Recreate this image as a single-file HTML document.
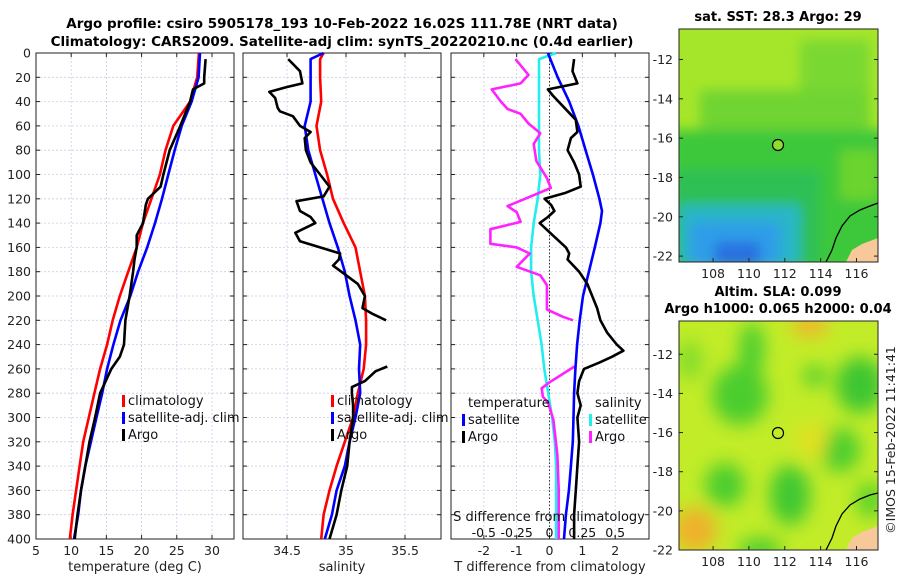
<!DOCTYPE html>
<html><head><meta charset="utf-8">
<style>
html,body{margin:0;padding:0;background:#fff;}
svg{display:block;font-family:"DejaVu Sans","Liberation Sans",sans-serif;}
</style></head>
<body>
<svg id="fig" width="900" height="580" viewBox="0 0 900 580" xmlns="http://www.w3.org/2000/svg">
<text x="342" y="28" text-anchor="middle" font-size="13.5" font-weight="bold">Argo profile: csiro 5905178_193 10-Feb-2022 16.02S 111.78E (NRT data)</text>
<text x="342" y="46" text-anchor="middle" font-size="13.5" font-weight="bold">Climatology: CARS2009. Satellite-adj clim: synTS_20220210.nc (0.4d earlier)</text>
<g id="p1"></g>
<g id="p2"></g>
<g id="p3"></g>

<!-- SST map -->
<text x="778" y="21" text-anchor="middle" font-size="13" font-weight="bold">sat. SST: 28.3 Argo: 29</text>
<g>
<defs>
<clipPath id="c1"><rect x="679" y="29" width="199" height="233"/></clipPath>
<clipPath id="c2"><rect x="679" y="321" width="199" height="229"/></clipPath>
<filter id="bl" x="-50%" y="-50%" width="200%" height="200%"><feGaussianBlur stdDeviation="9"/></filter>
<filter id="bl2" x="-20%" y="-20%" width="140%" height="140%"><feGaussianBlur stdDeviation="6"/></filter>
</defs>
<g clip-path="url(#c1)">
<rect x="679" y="29" width="199" height="233" fill="#a6e62a"/>
<g filter="url(#bl2)">
<rect x="700" y="90" width="170" height="60" fill="#6fd432"/>
<rect x="670" y="130" width="220" height="140" fill="#3ec83a"/>
<rect x="800" y="40" width="70" height="50" fill="#7ad830"/>
<rect x="670" y="170" width="150" height="100" fill="#2fbf55"/>
<rect x="680" y="205" width="120" height="60" fill="#29b6c8"/>
<rect x="690" y="222" width="90" height="45" fill="#2e9de8"/>
<rect x="715" y="242" width="45" height="25" fill="#2c6fe0"/>
<rect x="840" y="150" width="40" height="50" fill="#6cd42e"/>
</g>
<path d="M 846 262 L 852 250 L 862 244 L 878 238 L 878 262 Z" fill="#f7c99a"/>
<path d="M 826 262 L 832 250 L 836 238 L 842 226 L 850 216 L 860 210 L 870 206 L 878 203" fill="none" stroke="#000" stroke-width="1.3"/>
</g>
<rect x="679" y="29" width="199" height="233" fill="none" stroke="#222" stroke-width="1"/>
<circle cx="778" cy="145" r="5.5" fill="#8edc30" stroke="#000" stroke-width="1.2"/>
</g>
<g id="m1ticks"></g>

<!-- SLA map -->
<text x="778" y="296" text-anchor="middle" font-size="13" font-weight="bold">Altim. SLA: 0.099</text>
<text x="778" y="313" text-anchor="middle" font-size="13" font-weight="bold">Argo h1000: 0.065 h2000: 0.04</text>
<g>
<g clip-path="url(#c2)">
<rect x="679" y="321" width="199" height="229" fill="#c2ec28"/>
<g filter="url(#bl)">
<ellipse cx="752" cy="350" rx="12" ry="28" fill="#46cc30"/>
<ellipse cx="740" cy="395" rx="28" ry="30" fill="#4ccd2e"/>
<ellipse cx="860" cy="385" rx="24" ry="28" fill="#3ec631"/>
<ellipse cx="815" cy="376" rx="12" ry="10" fill="#4ccd2e"/>
<ellipse cx="840" cy="450" rx="20" ry="22" fill="#4ccd2e"/>
<ellipse cx="725" cy="485" rx="20" ry="22" fill="#4ccd2e"/>
<ellipse cx="790" cy="495" rx="20" ry="30" fill="#3fc830"/>
<ellipse cx="760" cy="550" rx="22" ry="12" fill="#4ccd2e"/>
<ellipse cx="870" cy="500" rx="14" ry="18" fill="#5ad22c"/>
<ellipse cx="690" cy="360" rx="12" ry="20" fill="#80db2a"/>
<ellipse cx="810" cy="325" rx="18" ry="12" fill="#f2b52a"/>
<ellipse cx="695" cy="530" rx="22" ry="22" fill="#f0b02c"/>
<ellipse cx="812" cy="440" rx="16" ry="18" fill="#e3e024"/>
</g>
<path d="M 846 550 L 852 538 L 862 532 L 878 526 L 878 550 Z" fill="#f7c99a"/>
<path d="M 826 550 L 832 538 L 836 526 L 842 514 L 850 505 L 860 499 L 870 495 L 878 493" fill="none" stroke="#000" stroke-width="1.3"/>
</g>
<rect x="679" y="321" width="199" height="229" fill="none" stroke="#222" stroke-width="1"/>
<circle cx="778" cy="433" r="5.5" fill="none" stroke="#000" stroke-width="1.2"/>
</g>
<g id="m2ticks"></g>
<text x="0" y="0" transform="translate(895,440) rotate(-90)" text-anchor="middle" font-size="12.5" fill="#222">©IMOS 15-Feb-2022 11:41:41</text>
</svg>
<script>
// ---- data (depth in dbar) ----
var depthsClim = [0,20,40,60,80,100,120,140,160,180,200,220,240,260,280,300,320,340,360,380,400];
var tempClim   = [28.15,27.9,26.9,24.5,23.4,22.6,21.4,20.2,19.3,18.1,16.9,15.9,15.1,14.1,13.3,12.5,11.7,11.2,10.7,10.2,9.8];
var tempSat    = [28.3,28.1,27.1,25.7,24.7,23.8,22.9,21.9,20.8,19.5,18.4,17.0,16.0,15.1,14.4,13.6,12.8,12.0,11.4,11.0,10.4];
var argoTempDepth = [5,20,25,30,40,60,80,100,110,120,125,140,150,160,170,180,200,220,240,250,260,280,300,320,340,360,380,400];
var argoTemp      = [29.1,28.9,28.9,27.3,26.9,25.5,24.0,23.1,22.7,20.9,20.6,20.2,19.3,19.3,19.0,18.8,18.3,17.7,17.5,16.9,15.7,14.1,13.4,12.6,12.0,11.4,10.9,10.5];
var salDepth = [0,5,20,40,60,80,100,120,140,160,180,200,220,240,260,280,300,320,340,360,380,400];
var salClim  = [34.81,34.78,34.78,34.79,34.75,34.78,34.84,34.89,34.98,35.08,35.12,35.16,35.17,35.17,35.15,35.10,35.06,34.99,34.92,34.86,34.81,34.79];
var salSat   = [34.81,34.70,34.70,34.70,34.65,34.68,34.74,34.80,34.86,34.93,34.99,35.03,35.08,35.12,35.11,35.12,35.08,35.03,34.99,34.92,34.88,34.82];
var argoSalDepth = [5,15,25,28,32,37,45,48,52,60,65,70,80,90,100,110,118,122,130,135,140,148,155,160,165,170,175,180,190,200,210,215,220,240,258,262,270,275,280,290,300,320,340,360,380,400];
var argoSal      = [34.51,34.61,34.63,34.50,34.35,34.40,34.42,34.44,34.55,34.61,34.70,34.65,34.66,34.70,34.78,34.86,34.81,34.58,34.61,34.70,34.74,34.57,34.61,34.78,34.95,34.94,34.89,34.96,35.10,35.16,35.14,35.23,35.34,null,35.35,35.25,35.16,35.05,35.05,35.06,35.06,35.03,35.01,34.96,34.92,34.86];
var dDepth = [0,20,40,60,80,100,120,130,140,160,180,200,220,240,260,280,300,320,340,360,380,400];
var tDiffSat = [-0.05,0.25,0.6,0.88,1.1,1.32,1.52,1.6,1.55,1.38,1.2,1.02,0.92,0.84,0.79,0.75,0.73,0.71,0.65,0.59,0.5,0.44];
var tDiffArgoDepth = [5,15,25,30,35,45,55,65,70,80,90,100,110,115,120,125,130,135,140,150,160,165,170,180,190,200,210,220,230,240,245,250,255,260,270,280,290,300,320,340,360,380,400];
var tDiffArgo = [0.75,0.7,0.85,-0.05,0.1,0.45,0.8,0.85,0.65,0.55,0.75,0.9,0.95,0.5,-0.15,0.05,0.15,-0.05,-0.3,0.1,0.5,0.6,0.55,0.9,1.15,1.3,1.45,1.55,1.75,2.05,2.25,1.9,1.5,1.05,0.9,0.85,0.95,0.85,0.9,0.85,0.8,0.75,0.75];
var sDiffSatDepth = [0,5,20,40,60,80,100,120,140,160,180,200,220,240,260,280,300,320,340,360,380,400];
var sDiffSat = [0.05,-0.08,-0.08,-0.08,-0.08,-0.08,-0.07,-0.09,-0.12,-0.14,-0.14,-0.12,-0.09,-0.06,-0.04,-0.01,0.02,0.04,0.05,0.05,0.05,0.05];
var sDiffArgoDepth = [5,18,25,30,40,46,50,58,66,75,89,103,111,117,126,131,139,145,157,160,165,176,183,191,211,217,220,240,258,271,276,283,288,302,331,359,400];
var sDiffArgo = [-0.26,-0.16,-0.22,-0.44,-0.37,-0.32,-0.22,-0.16,-0.07,-0.12,-0.1,-0.02,0.01,-0.12,-0.32,-0.25,-0.22,-0.45,-0.45,-0.25,-0.15,-0.25,-0.07,-0.02,-0.02,0.1,0.18,null,0.19,0.0,-0.06,-0.05,-0.01,0.03,0.06,0.07,0.07];
var depthTicks = [0,20,40,60,80,100,120,140,160,180,200,220,240,260,280,300,320,340,360,380,400];
var tempTicks = [5,10,15,20,25,30];
var salTicks = [34.5,35,35.5];
var tdTicks = [-2,-1,0,1,2];
var sdTickLabels = ["-0.5","-0.25","0","0.25","0.5"];
var sdTicks = [-0.5,-0.25,0,0.25,0.5];
var latTicks = [-12,-14,-16,-18,-20,-22];
var lonTicks = [108,110,112,114,116];

var NS="http://www.w3.org/2000/svg";
var Y0=53, Y1=539;
var FS=12.5;
function yScale(d){return Y0+(d/400)*(Y1-Y0);}
function mk(tag,attrs,parent){var e=document.createElementNS(NS,tag);for(var k in attrs)e.setAttribute(k,attrs[k]);parent.appendChild(e);return e;}

function panel(g,x0,x1,vmin,vmax,xticks,xlabels,title,showY){
  var xs=function(v){return x0+(v-vmin)/(vmax-vmin)*(x1-x0);};
  depthTicks.forEach(function(d){
    var l=mk('line',{x1:x0,x2:x1,y1:yScale(d),y2:yScale(d),stroke:'#c8cde6','stroke-width':0.8,'stroke-dasharray':'2,2'},g);
    
    
    mk('line',{x1:x0,x2:x0+4,y1:yScale(d),y2:yScale(d),stroke:'#222'},g);
    mk('line',{x1:x1,x2:x1-4,y1:yScale(d),y2:yScale(d),stroke:'#222'},g);
    if(showY){var t=mk('text',{x:x0-5,y:yScale(d)+4.5,'text-anchor':'end','font-size':FS,fill:'#222'},g);t.textContent=d;
      
      }
  });
  xticks.forEach(function(v,i){
    var l=mk('line',{x1:xs(v),x2:xs(v),y1:Y0,y2:Y1,stroke:'#c8cde6','stroke-width':0.8,'stroke-dasharray':'2,2'},g);
    
    
    mk('line',{x1:xs(v),x2:xs(v),y1:Y1,y2:Y1-4,stroke:'#222'},g);
    mk('line',{x1:xs(v),x2:xs(v),y1:Y0,y2:Y0+4,stroke:'#222'},g);
    var t=mk('text',{x:xs(v),y:Y1+16,'text-anchor':'middle','font-size':FS,fill:'#222'},g);t.textContent=xlabels[i];
    
    
  });
  var tt=mk('text',{x:(x0+x1)/2,y:571,'text-anchor':'middle','font-size':13,fill:'#222'},g);tt.textContent=title;
  
  
  var r=mk('rect',{x:x0,y:Y0,width:x1-x0,height:Y1-Y0,fill:'none',stroke:'#222','stroke-width':1},g);
  
  
  return xs;
}
function line(g,xs,vals,deps,color,name){
  var d='',pen=false;
  for(var i=0;i<vals.length;i++){
    if(vals[i]===null){pen=false;continue;}
    d+=(pen?'L':'M')+xs(vals[i]).toFixed(1)+' '+yScale(deps[i]).toFixed(1)+' ';pen=true;
  }
  var p=mk('path',{d:d,fill:'none',stroke:color,'stroke-width':2.6,'stroke-linejoin':'round'},g);
  
  
}
function legend(g,x,y,items){
  items.forEach(function(it,i){
    if(it[1]){mk('rect',{x:x,y:y+i*17-10,width:3,height:12,fill:it[1]},g);}
    var t=mk('text',{x:x+6,y:y+i*17,'font-size':13,fill:'#111'},g);t.textContent=it[0];
    
    
  });
}
var p1=document.getElementById('p1'),p2=document.getElementById('p2'),p3=document.getElementById('p3');
var xs1=panel(p1,36,234,5,33.13,tempTicks,tempTicks,'temperature (deg C)',true);
line(p1,xs1,tempClim,depthsClim,'#ff0000','temp-climatology-line');
line(p1,xs1,tempSat,depthsClim,'#0000ff','temp-satellite-line');
line(p1,xs1,argoTemp,argoTempDepth,'#000000','temp-argo-line');
legend(p1,122,405,[['climatology','#ff0000'],['satellite-adj. clim','#0000ff'],['Argo','#000']]);

var xs2=panel(p2,243,441,34.127,35.805,salTicks,salTicks,'salinity',false);
line(p2,xs2,salClim,salDepth,'#ff0000','sal-climatology-line');
line(p2,xs2,salSat,salDepth,'#0000ff','sal-satellite-line');
line(p2,xs2,argoSal,argoSalDepth,'#000000','sal-argo-line');
legend(p2,331,405,[['climatology','#ff0000'],['satellite-adj. clim','#0000ff'],['Argo','#000']]);

var xs3=panel(p3,451,649,-3.0,3.03,tdTicks,tdTicks,'T difference from climatology',false);
var zl=mk('line',{x1:xs3(0),x2:xs3(0),y1:Y0,y2:Y1,stroke:'#333','stroke-width':1,'stroke-dasharray':'1.5,2'},p3);


var xsS=function(v){return xs3(v*4);};
line(p3,xsS,sDiffSat,sDiffSatDepth,'#22eeee','sdiff-satellite-line');
line(p3,xsS,sDiffArgo,sDiffArgoDepth,'#ff22ff','sdiff-argo-line');
line(p3,xs3,tDiffSat,dDepth,'#0000ff','tdiff-satellite-line');
line(p3,xs3,tDiffArgo,tDiffArgoDepth,'#000000','tdiff-argo-line');
legend(p3,462,407,[['temperature',null],['satellite','#0000ff'],['Argo','#000']]);
legend(p3,589,407,[['salinity',null],['satellite','#22eeee'],['Argo','#ff22ff']]);
var st=mk('text',{x:549,y:521,'text-anchor':'middle','font-size':13,fill:'#111'},p3);st.textContent='S difference from climatology';


sdTicks.forEach(function(v,i){
  var t=mk('text',{x:xsS(v),y:537,'text-anchor':'middle','font-size':FS,fill:'#111'},p3);t.textContent=sdTickLabels[i];
  
  
});

function mapAxes(g,top,bottom,latTop,latBot){
  var ly=function(l){return top+(latTop-l)/(latTop-latBot)*(bottom-top);};
  var lx=function(l){return 679+(l-106.1)/(117.2-106.1)*199;};
  latTicks.forEach(function(l){
    var y=ly(l);
    mk('line',{x1:679,x2:683,y1:y,y2:y,stroke:'#222'},g);
    mk('line',{x1:878,x2:874,y1:y,y2:y,stroke:'#222'},g);
    var t=mk('text',{x:673,y:y+4.5,'text-anchor':'end','font-size':FS,fill:'#222'},g);t.textContent=l;
    
    
  });
  lonTicks.forEach(function(l){
    var x=lx(l);
    mk('line',{x1:x,x2:x,y1:bottom,y2:bottom-4,stroke:'#222'},g);
    var t=mk('text',{x:x,y:bottom+16,'text-anchor':'middle','font-size':FS,fill:'#222'},g);t.textContent=l;
    
    
  });
}
mapAxes(document.getElementById('m1ticks'),29,262,-10.45,-22.3);
mapAxes(document.getElementById('m2ticks'),321,550,-10.3,-22);
</script>
</body></html>
